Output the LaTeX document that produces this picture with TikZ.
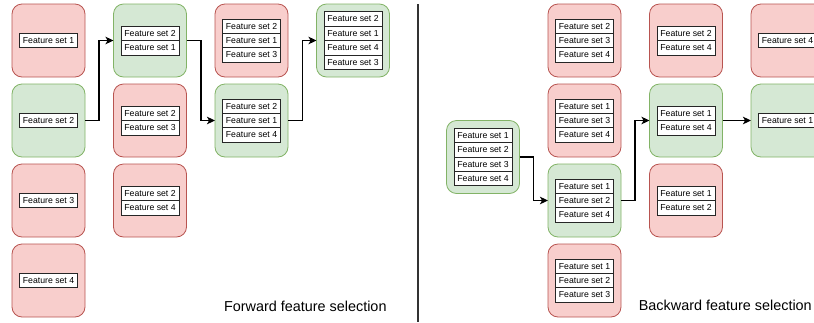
\documentclass[tikz,border=0pt]{standalone}
\usepackage{fontspec}
\setmainfont{Liberation Sans}
\usetikzlibrary{arrows.meta}
\definecolor{redfill}{HTML}{F8CECC}
\definecolor{redline}{HTML}{B85450}
\definecolor{greenfill}{HTML}{D5E8D4}
\definecolor{greenline}{HTML}{82B366}
\definecolor{divline}{HTML}{333333}
\tikzset{
  redbox/.style={draw=redline,fill=redfill,line width=0.8pt,rounded corners=10pt,minimum width=73pt,minimum height=73pt,outer sep=0pt,inner sep=0pt},
  greenbox/.style={draw=greenline,fill=greenfill,line width=0.8pt,rounded corners=10pt,minimum width=73pt,minimum height=73pt,outer sep=0pt,inner sep=0pt},
  fsrow/.style={draw=black!85,fill=white,line width=0.8pt,minimum width=58pt,minimum height=14.4pt,inner sep=0pt,outer sep=0pt,font=\fontsize{8.7}{9}\selectfont},
  arr/.style={draw=black,line width=1.4pt,-{Stealth[length=8pt,width=7.5pt,inset=2pt]}},
  caption/.style={font=\fontsize{14.4}{16}\selectfont,anchor=base,inner sep=0pt}
}
\newcommand\fsbox[5]{%
  \node[#2] (#1) at (#3,#4) {};
  \foreach \t [count=\i] in {#5} {\xdef\fsnrows{\i}}
  \foreach \t [count=\i] in {#5} {
    \node[fsrow] (#1-\i) at (#3,{#4-\fsnrows*7.2+(\i-0.5)*14.4}) {\t};
  }%
}
\begin{document}
\begin{tikzpicture}[x=1pt,y=-1pt]
\useasboundingbox (0,0) rectangle (814,322);
\clip (0,0) rectangle (814,322);
% ---------------- Forward ----------------
\fsbox{L11}{redbox}{48.5}{40.5}{Feature set 1}
\fsbox{L12}{greenbox}{48.5}{120.5}{Feature set 2}
\fsbox{L13}{redbox}{48.5}{200.5}{Feature set 3}
\fsbox{L14}{redbox}{48.5}{280.5}{Feature set 4}
\fsbox{L21}{greenbox}{150}{40.5}{Feature set 2,Feature set 1}
\fsbox{L22}{redbox}{150}{120.5}{Feature set 2,Feature set 3}
\fsbox{L23}{redbox}{150}{200.5}{Feature set 2,Feature set 4}
\fsbox{L31}{redbox}{251.5}{40.5}{Feature set 2,Feature set 1,Feature set 3}
\fsbox{L32}{greenbox}{251.5}{120.5}{Feature set 2,Feature set 1,Feature set 4}
\fsbox{L41}{greenbox}{353}{40.5}{Feature set 2,Feature set 1,Feature set 4,Feature set 3}
\draw[arr] (L12.east) -- ++(14,0) |- (L21.west);
\draw[arr] (L21.east) -- ++(14.5,0) |- (L32.west);
\draw[arr] (L32.east) -- ++(14.5,0) |- (L41.west);
\node[caption] (fwd) at (305.3,311.2) {Forward feature selection};
% ---------------- divider ----------------
\coordinate (dtop) at (418,4);
\coordinate (dbot) at (418,322);
\draw[divline,line width=2pt] (dtop) -- (dbot);
% ---------------- Backward ----------------
\fsbox{RA}{greenbox}{483}{157}{Feature set 1,Feature set 2,Feature set 3,Feature set 4}
\fsbox{RB1}{redbox}{584.5}{40.5}{Feature set 2,Feature set 3,Feature set 4}
\fsbox{RB2}{redbox}{584.5}{120.5}{Feature set 1,Feature set 3,Feature set 4}
\fsbox{RB3}{greenbox}{584.5}{200.5}{Feature set 1,Feature set 2,Feature set 4}
\fsbox{RB4}{redbox}{584.5}{280.5}{Feature set 1,Feature set 2,Feature set 3}
\fsbox{RC1}{redbox}{686}{40.5}{Feature set 2,Feature set 4}
\fsbox{RC2}{greenbox}{686}{120.5}{Feature set 1,Feature set 4}
\fsbox{RC3}{redbox}{686}{200.5}{Feature set 1,Feature set 2}
\fsbox{RD1}{redbox}{787.5}{40.5}{Feature set 4}
\fsbox{RD2}{greenbox}{787.5}{120.5}{Feature set 1}
\draw[arr] (RA.east) -- ++(14,0) |- (RB3.west);
\draw[arr] (RB3.east) -- ++(14,0) |- (RC2.west);
\draw[arr] (RC2.east) -- (RD2.west);
\node[caption] (bwd) at (725.3,310.8) {Backward feature selection};
\end{tikzpicture}
\end{document}
